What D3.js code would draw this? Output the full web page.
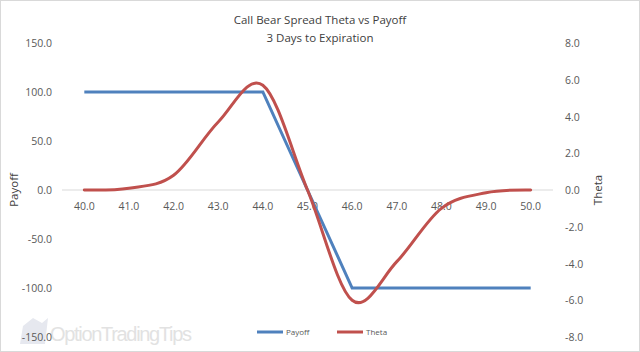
<!DOCTYPE html>
<html>
<head>
<meta charset="utf-8">
<script src="https://cdn.jsdelivr.net/npm/d3@7"></script>
<style>
  body { margin: 0; background: #fff; }
  svg { display: block; font-family: "Open Sans", "Liberation Sans", sans-serif; }
</style>
</head>
<body>
<svg id="chart" width="640" height="352"></svg>
<script>
// data //
const strikes = [40, 41, 42, 43, 44, 45, 46, 47, 48, 49, 50]
const payoff = [100, 100, 100, 100, 100, 0, -100, -100, -100, -100, -100]
const theta = [0, 0.1, 0.8, 3.7, 5.7, 0, -6.0, -3.9, -1.0, -0.15, 0]
const payoffTicks = [150, 100, 50, 0, -50, -100, -150]
const thetaTicks = [8, 6, 4, 2, 0, -2, -4, -6, -8]

const width = 640
const height = 352
const svg = d3.select('#chart')

// plain hyphen for negatives, like the original
const fmt = d3.formatLocale({ decimal: '.', thousands: ',', grouping: [3], currency: ['', ''], minus: '-' }).format('.1f')

// border
svg.append('rect')
    .attr('x', 0.5).attr('y', 0.5)
    .attr('width', width - 1).attr('height', height - 1)
    .attr('fill', '#fff').attr('stroke', '#d9d9d9')

// scales //
const xScale = d3.scalePoint()
    .domain(strikes)
    .range([62, 553])
    .padding(0.5)

const yLeft = d3.scaleLinear()
    .domain([-150, 150])
    .range([337, 43])

const yRight = d3.scaleLinear()
    .domain([-8, 8])
    .range([337, 43])

// watermark
const wm = svg.append('g')
wm.append('path')
    .attr('d', 'M20,344 L23,326 L33,318 L42,323 L48,318 L45,344 Z')
    .attr('fill', '#e6e8ef')
wm.append('text')
    .attr('x', 50).attr('y', 341)
    .attr('textLength', 142)
    .style('font-family', '"Liberation Sans", sans-serif')
    .style('font-size', '20px')
    .attr('fill', '#e2e2e2')
    .text('OptionTradingTips')

// zero line
svg.append('line')
    .attr('x1', 62).attr('x2', 553)
    .attr('y1', yLeft(0)).attr('y2', yLeft(0))
    .attr('stroke', '#d9d9d9')

// left axis labels
svg.append('g')
    .selectAll('text')
    .data(payoffTicks)
    .join('text')
    .attr('x', 52)
    .attr('y', d => yLeft(d) + 4)
    .attr('text-anchor', 'end')
    .style('font-size', '10.5px')
    .attr('fill', '#595959')
    .text(d => fmt(d))

// right axis labels
svg.append('g')
    .selectAll('text')
    .data(thetaTicks)
    .join('text')
    .attr('x', 565)
    .attr('y', d => yRight(d) + 4)
    .style('font-size', '10.5px')
    .attr('fill', '#595959')
    .text(d => fmt(d))

// x axis labels
svg.append('g')
    .selectAll('text')
    .data(strikes)
    .join('text')
    .attr('x', d => xScale(d))
    .attr('y', yLeft(0) + 20)
    .attr('text-anchor', 'middle')
    .style('font-size', '10.5px')
    .attr('fill', '#595959')
    .text(d => fmt(d))

// lines //
const payoffLine = d3.line()
    .x((d, i) => xScale(strikes[i]))
    .y(d => yLeft(d))

const thetaLine = d3.line()
    .x((d, i) => xScale(strikes[i]))
    .y(d => yRight(d))
    .curve(d3.curveCardinal.tension(0))

svg.append('path')
    .attr('d', payoffLine(payoff))
    .attr('fill', 'none')
    .attr('stroke', '#4f81bd')
    .attr('stroke-width', 3)

svg.append('path')
    .attr('d', thetaLine(theta))
    .attr('fill', 'none')
    .attr('stroke', '#c0504d')
    .attr('stroke-width', 3)
    .attr('stroke-linecap', 'round')

// titles
svg.append('text')
    .attr('x', 320).attr('y', 24)
    .attr('text-anchor', 'middle')
    .style('font-size', '11.5px')
    .attr('fill', '#404040')
    .text('Call Bear Spread Theta  vs Payoff')

svg.append('text')
    .attr('x', 320).attr('y', 42)
    .attr('text-anchor', 'middle')
    .style('font-size', '11.5px')
    .attr('fill', '#404040')
    .text('3 Days to Expiration')

// axis titles
svg.append('text')
    .attr('transform', `translate(18, ${yLeft(0)}) rotate(-90)`)
    .attr('text-anchor', 'middle')
    .style('font-size', '11.5px')
    .attr('fill', '#404040')
    .text('Payoff')

svg.append('text')
    .attr('transform', `translate(602, ${yLeft(0)}) rotate(-90)`)
    .attr('text-anchor', 'middle')
    .style('font-size', '11.5px')
    .attr('fill', '#404040')
    .text('Theta')

// legend
const legend = svg.append('g')
const items = [{ name: 'Payoff', color: '#4f81bd', x: 257 }, { name: 'Theta', color: '#c0504d', x: 337 }]
items.forEach(item => {
    legend.append('line')
        .attr('x1', item.x).attr('x2', item.x + 26)
        .attr('y1', 332).attr('y2', 332)
        .attr('stroke', item.color)
        .attr('stroke-width', 3)
    legend.append('text')
        .attr('x', item.x + 29).attr('y', 335)
        .style('font-size', '8px')
        .attr('fill', '#595959')
        .text(item.name)
})
</script>
</body>
</html>
